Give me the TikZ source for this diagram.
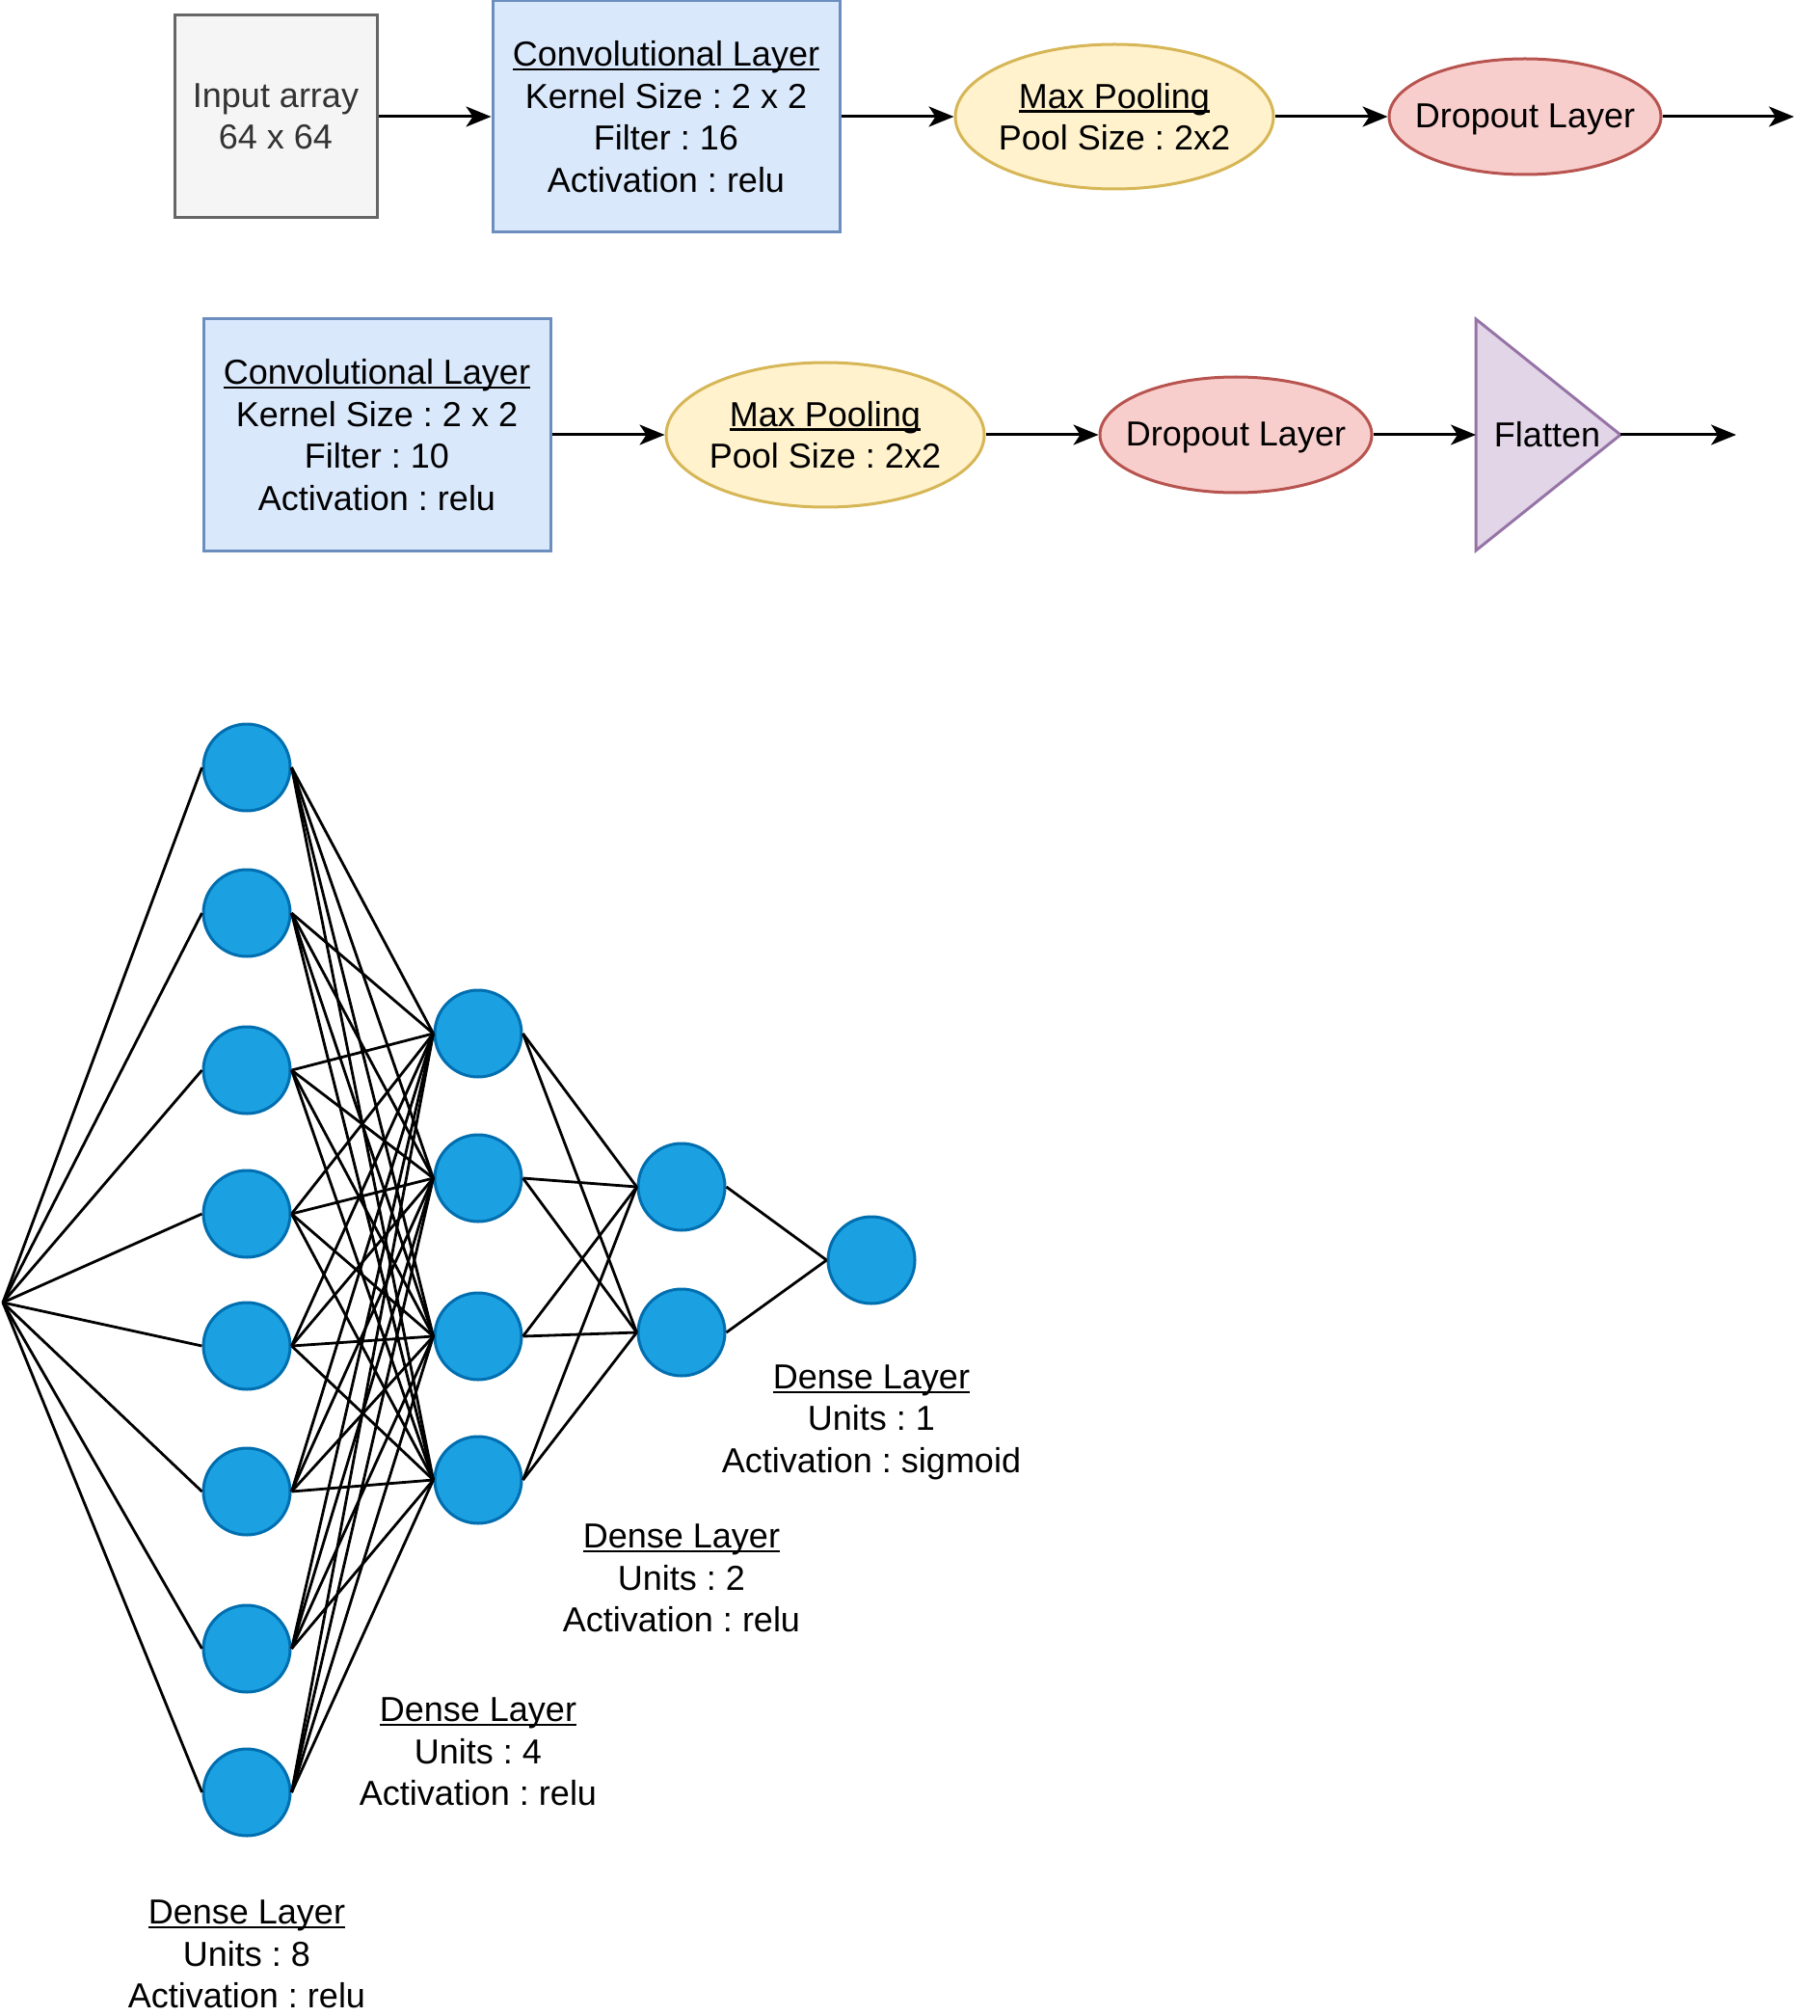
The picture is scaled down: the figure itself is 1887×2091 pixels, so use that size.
\documentclass[tikz,border=0pt]{standalone}
\usepackage{fontspec}
\setmainfont{Liberation Sans}
\usetikzlibrary{arrows.meta,shapes.geometric}

\definecolor{inpfill}{HTML}{F5F5F5}
\definecolor{inpline}{HTML}{666666}
\definecolor{inptext}{HTML}{333333}
\definecolor{convfill}{HTML}{DAE8FC}
\definecolor{convline}{HTML}{6C8EBF}
\definecolor{poolfill}{HTML}{FFF2CC}
\definecolor{poolline}{HTML}{D6B656}
\definecolor{dropfill}{HTML}{F8CECC}
\definecolor{dropline}{HTML}{B85450}
\definecolor{flatfill}{HTML}{E1D5E7}
\definecolor{flatline}{HTML}{9673A6}
\definecolor{neufill}{HTML}{1BA1E2}
\definecolor{neuline}{HTML}{006EAF}

% underline that runs through descenders, close to the baseline
\newcommand\ulnd[1]{\setbox0=\hbox{#1}\rlap{\rule[-0.13em]{\wd0}{0.065em}}\box0}

\tikzset{
  lbl/.style={font=\fontsize{18}{21.75}\selectfont\frenchspacing, align=center, inner sep=0pt, text=black},
  shp/.style={lbl, draw, line width=1.5pt},
  inbox/.style={shp, rectangle, fill=inpfill, draw=inpline, text=inptext,
    minimum width=105pt, minimum height=105pt},
  convbox/.style={shp, rectangle, fill=convfill, draw=convline,
    minimum width=180pt, minimum height=120pt},
  poolell/.style={shp, ellipse, fill=poolfill, draw=poolline,
    minimum width=165pt, minimum height=75pt},
  dropell/.style={shp, ellipse, fill=dropfill, draw=dropline,
    minimum width=141pt, minimum height=60pt},
  arr/.style={line width=1.5pt, -{Stealth[length=13pt, width=10.5pt, inset=3.5pt]}},
  neuron/.style={circle, draw=neuline, fill=neufill, line width=1.5pt,
    minimum size=45pt, inner sep=0pt},
  edge/.style={line width=1.4pt, black},
}

\begin{document}
\frenchspacing
\begin{tikzpicture}[x=0.5pt, y=-0.5pt]
\useasboundingbox (0,0) rectangle (1887,2091);

% ---- first row ----
\node[inbox] (inp) at (286,121) {Input array\\64 x 64};
\node[convbox] (conv1) at (691,121) {\ulnd{Convolutional Layer}\\Kernel Size : 2 x 2\\Filter : 16\\Activation : relu};
\node[poolell, label={[lbl]center:\ulnd{Max Pooling}\\Pool Size : 2x2}] (pool1) at (1156,121) {};
\node[dropell, label={[lbl, yshift=-1.2pt]center:Dropout Layer}] (drop1) at (1582,121) {};
\coordinate (out1) at (1861,121);

\draw[arr] (inp.east) -- (conv1.west);
\draw[arr] (conv1.east) -- (pool1.west);
\draw[arr] (pool1.east) -- (drop1.west);
\draw[arr] (drop1.east) -- (out1);

% ---- second row ----
\node[convbox] (conv2) at (391,451) {\ulnd{Convolutional Layer}\\Kernel Size : 2 x 2\\Filter : 10\\Activation : relu};
\node[poolell, label={[lbl]center:\ulnd{Max Pooling}\\Pool Size : 2x2}] (pool2) at (856,451) {};
\node[dropell, label={[lbl, yshift=-1.2pt]center:Dropout Layer}] (drop2) at (1282,451) {};
\coordinate (flatw) at (1531,451);
\coordinate (flate) at (1681,451);
\draw[line width=1.5pt, draw=flatline, fill=flatfill, line join=miter]
  (1531,331) -- (flate) -- (1531,571) -- cycle;
\node[lbl] (flatten) at (1605,451) {Flatten};
\coordinate (out2) at (1801,451);

\draw[arr] (conv2.east) -- (pool2.west);
\draw[arr] (pool2.east) -- (drop2.west);
\draw[arr] (drop2.east) -- (flatw);
\draw[arr] (flate) -- (out2);

% ---- dense network ----
\coordinate (src) at (3,1351);
\foreach \y [count=\i] in {796,947,1110,1259,1396,1547,1710,1859}
  \node[neuron] (a\i) at (256,\y) {};
\foreach \y [count=\i] in {1072,1222,1386,1535}
  \node[neuron] (b\i) at (496,\y) {};
\foreach \y [count=\i] in {1231,1382}
  \node[neuron] (c\i) at (707,\y) {};
\node[neuron] (d1) at (904,1307) {};

\foreach \i in {1,...,8} \draw[edge] (src) -- (a\i.west);
\foreach \i in {1,...,8} \foreach \j in {1,...,4} \draw[edge] (a\i.east) -- (b\j.west);
\foreach \i in {1,...,4} \foreach \j in {1,2} \draw[edge] (b\i.east) -- (c\j.west);
\foreach \i in {1,2} \draw[edge] (c\i.east) -- (d1.west);

\node[lbl] (lab1) at (256,2027) {\ulnd{Dense Layer}\\Units : 8\\Activation : relu};
\node[lbl] (lab2) at (496,1817) {\ulnd{Dense Layer}\\Units : 4\\Activation : relu};
\node[lbl] (lab3) at (707,1637) {\ulnd{Dense Layer}\\Units : 2\\Activation : relu};
\node[lbl] (lab4) at (904,1475) {\ulnd{Dense Layer}\\Units : 1\\Activation : sigmoid};
\end{tikzpicture}
\end{document}
